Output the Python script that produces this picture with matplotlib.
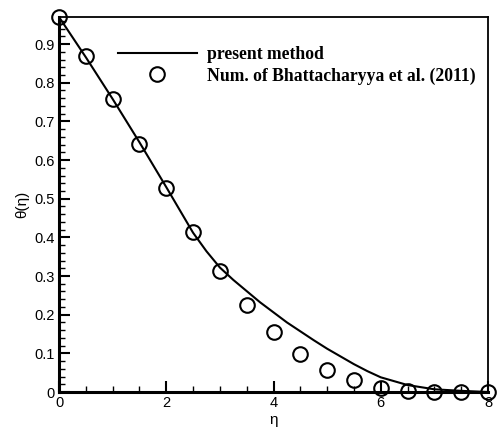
import matplotlib
matplotlib.use("Agg")
import matplotlib.pyplot as plt
from matplotlib.ticker import MultipleLocator

# present method (solid curve)
eta_line = [0.0, 0.5, 1.0, 1.5, 2.0, 2.5, 2.75, 3.0, 3.25, 3.5, 3.75, 4.0, 4.25,
            4.5, 4.75, 5.0, 5.25, 5.5, 5.75, 6.0, 6.5, 7.0, 7.5, 8.0]
theta_line = [0.970, 0.866, 0.758, 0.646, 0.530, 0.412, 0.364, 0.322, 0.290, 0.261,
              0.232, 0.206, 0.180, 0.157, 0.134, 0.112, 0.092, 0.072, 0.054,
              0.038, 0.018, 0.007, 0.003, 0.0]

# Bhattacharyya et al. (2011) numerical values (circles)
eta_num = [0.0, 0.5, 1.0, 1.5, 2.0, 2.5, 3.0, 3.5, 4.0, 4.5, 5.0, 5.5, 6.0,
           6.5, 7.0, 7.5, 8.0]
theta_num = [0.970, 0.869, 0.758, 0.642, 0.528, 0.414, 0.312, 0.225, 0.154,
             0.098, 0.057, 0.031, 0.011, 0.003, 0.0, 0.0, 0.0]

plt.rcParams['font.family'] = ['Liberation Sans', 'DejaVu Sans']

fig = plt.figure(figsize=(4.97, 4.30), dpi=100)
ax = fig.add_axes([59 / 497, 1 - 392 / 430, (488 - 59) / 497, (392 - 17) / 430])

ax.plot(eta_line, theta_line, color='black', linewidth=1.5, label='present method')
ax.plot(eta_num, theta_num, linestyle='none', marker='o', markersize=10.5,
        markerfacecolor='none', markeredgecolor='black', markeredgewidth=1.5,
        clip_on=False, zorder=5, label='Num. of Bhattacharyya et al. (2011)')

ax.set_xlim(0, 8)
ax.set_ylim(0, 0.97)
ax.xaxis.set_major_locator(MultipleLocator(2))
ax.xaxis.set_minor_locator(MultipleLocator(0.5))
ax.yaxis.set_major_locator(MultipleLocator(0.1))
ax.yaxis.set_minor_locator(MultipleLocator(0.02))
ax.xaxis.set_major_formatter(plt.FuncFormatter(lambda v, p: f"{v:g}"))
ax.yaxis.set_major_formatter(plt.FuncFormatter(lambda v, p: f"{v:g}"))

ax.tick_params(which='both', direction='in', top=False, right=False,
               labelsize=10.5, colors='black', pad=3)
ax.tick_params(which='major', length=8, width=1.5)
ax.tick_params(which='minor', length=4.5, width=1.0)

for side in ['left', 'bottom']:
    ax.spines[side].set_linewidth(2.2)
for side in ['top', 'right']:
    ax.spines[side].set_linewidth(1.3)

ax.set_xlabel('η', fontsize=11, labelpad=2)
ax.set_ylabel('θ(η)', fontsize=11, labelpad=4)

ax.legend(loc='upper left', bbox_to_anchor=(0.12, 0.942), frameon=False,
          prop={'family': 'Liberation Serif', 'weight': 'bold', 'size': 12.7},
          handlelength=4.5, handletextpad=0.55, labelspacing=0.25,
          borderaxespad=0.0)

fig.savefig('out.png', dpi=100)
